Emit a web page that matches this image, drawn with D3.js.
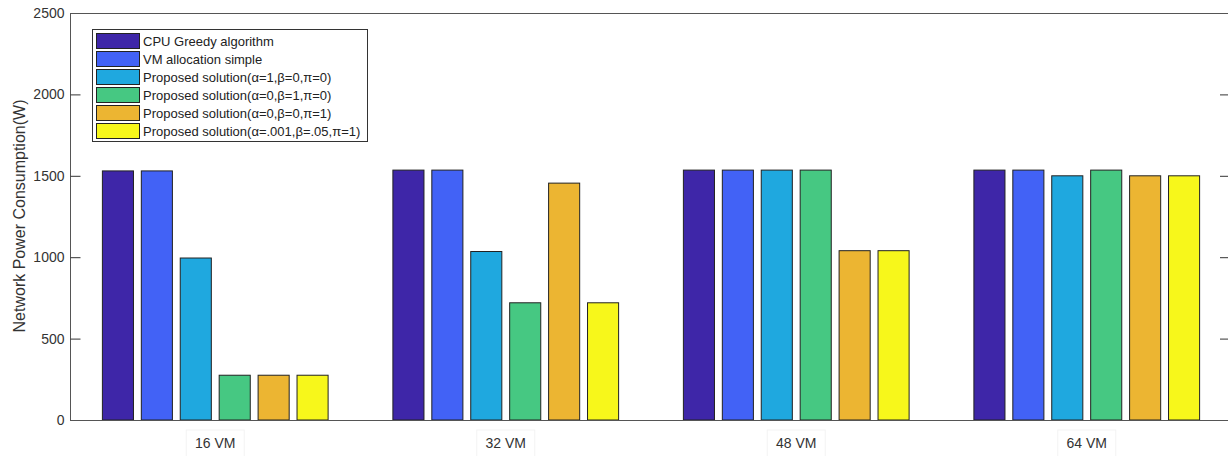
<!DOCTYPE html>
<html>
<head>
<meta charset="utf-8">
<script src="https://cdn.jsdelivr.net/npm/d3@7"></script>
<style>
html,body{margin:0;padding:0;background:#fff;}
svg{display:block;font-family:"Liberation Sans",Arial,sans-serif;}
</style>
</head>
<body>
<svg id="chart" width="1228" height="456"></svg>
<script>
const categories = ["16 VM", "32 VM", "48 VM", "64 VM"];
const seriesNames = [
  "CPU Greedy algorithm",
  "VM allocation simple",
  "Proposed solution(\u03b1=1,\u03b2=0,\u03c0=0)",
  "Proposed solution(\u03b1=0,\u03b2=1,\u03c0=0)",
  "Proposed solution(\u03b1=0,\u03b2=0,\u03c0=1)",
  "Proposed solution(\u03b1=.001,\u03b2=.05,\u03c0=1)"
];
const cpuGreedy   = [1530, 1535, 1535, 1535];
const vmSimple    = [1530, 1535, 1535, 1535];
const propA       = [995, 1035, 1535, 1500];
const propB       = [275, 720, 1535, 1535];
const propPi      = [275, 1455, 1040, 1500];
const propMix     = [275, 720, 1040, 1500];
const yTicks = [0, 500, 1000, 1500, 2000, 2500];
const colors = ["#3e26a8", "#4262f6", "#1fa8df", "#46c882", "#ecb532", "#f7f71b"];

const series = [cpuGreedy, vmSimple, propA, propB, propPi, propMix];

const svg = d3.select("#chart");
const mLeft = 70, mRight = 1232, mTop = 13, mBottom = 420;

const x = d3.scaleLinear().domain([0.5, categories.length + 0.5]).range([mLeft, mRight]);
const y = d3.scaleLinear().domain([0, 2500]).range([mBottom, mTop]);

const step = 0.134, bw = 0.107;

// bars
const g = svg.append("g");
series.forEach((vals, j) => {
  g.selectAll(null).data(vals).enter().append("rect")
    .attr("x", (d, i) => x(i + 1 + (j - 2.5) * step - bw / 2))
    .attr("width", x(bw) - x(0))
    .attr("y", d => y(d))
    .attr("height", d => y(0) - y(d))
    .attr("fill", colors[j])
    .attr("stroke", "#222")
    .attr("stroke-width", 1);
});

// frame
svg.append("line").attr("x1", mLeft).attr("x2", mRight).attr("y1", mTop + 0.5).attr("y2", mTop + 0.5).attr("stroke", "#555");
svg.append("line").attr("x1", mLeft).attr("x2", mRight).attr("y1", mBottom + 0.5).attr("y2", mBottom + 0.5).attr("stroke", "#555");
svg.append("line").attr("x1", mLeft + 0.5).attr("x2", mLeft + 0.5).attr("y1", mTop).attr("y2", mBottom).attr("stroke", "#555");

// y axis
const yAxis = d3.axisLeft(y).tickValues(yTicks).tickSizeInner(-10).tickSizeOuter(0)
  .tickFormat(d3.format("d"));
const ya = svg.append("g").attr("transform", `translate(${mLeft + 0.5},0)`).call(yAxis);
ya.select(".domain").remove();
ya.selectAll(".tick line").attr("stroke", "#333");
ya.selectAll(".tick text").attr("fill", "#333").style("font-size", "14px")
  .attr("x", -6).attr("font-family", "Liberation Sans, Arial, sans-serif");
ya.selectAll(".tick").filter(d => d === 0 || d === 2500).select("line").remove();

// right ticks
const yr = svg.append("g").attr("transform", `translate(${mRight - 2},0)`)
  .call(d3.axisRight(y).tickValues(yTicks).tickSizeInner(-10).tickSizeOuter(0).tickFormat(""));
yr.select(".domain").remove();
yr.selectAll(".tick line").attr("stroke", "#333");
yr.selectAll(".tick").filter(d => d === 0 || d === 2500).select("line").remove();

// x labels
categories.forEach((c, i) => {
  const cx = x(i + 1);
  svg.append("rect").attr("x", cx - 29).attr("y", 430).attr("width", 58).attr("height", 30)
    .attr("fill", "none").attr("stroke", "#f3f3f3");
  svg.append("text").attr("x", cx).attr("y", 448).attr("text-anchor", "middle")
    .attr("fill", "#333").style("font-size", "14px").text(c);
});

// y label
svg.append("text").attr("transform", `translate(25,216) rotate(-90)`)
  .attr("text-anchor", "middle").attr("fill", "#333").style("font-size", "16px")
  .text("Network Power Consumption(W)");

// legend
const lg = svg.append("g");
lg.append("rect").attr("x", 92.5).attr("y", 29.5).attr("width", 275).attr("height", 112)
  .attr("fill", "#fff").attr("stroke", "#333");
seriesNames.forEach((n, j) => {
  const cy = 41 + j * 18;
  lg.append("rect").attr("x", 96.5).attr("y", cy - 7.5).attr("width", 43).attr("height", 15)
    .attr("fill", colors[j]).attr("stroke", "#222");
  lg.append("text").attr("x", 143).attr("y", cy + 5).attr("fill", "#222")
    .style("font-size", "13px").text(n);
});
</script>
</body>
</html>
